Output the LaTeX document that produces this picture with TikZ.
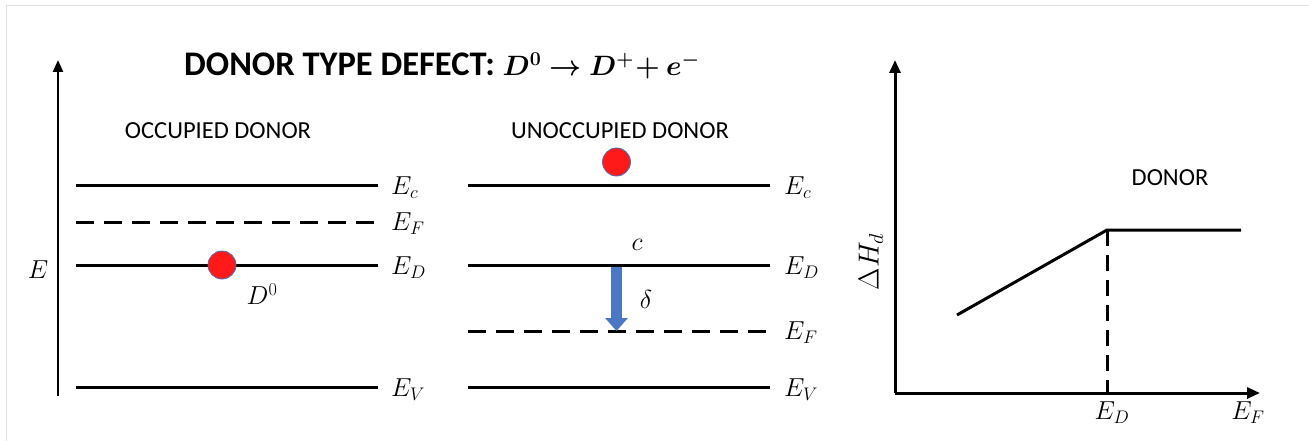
\RequirePackage{fix-cm}
\documentclass[tikz,border=0pt]{standalone}
\usepackage{fontspec}
\usepackage{amsmath,bm}
\setsansfont{Carlito}
\usetikzlibrary{arrows.meta}
\definecolor{dotred}{HTML}{FF1A1A}
\definecolor{dotedge}{HTML}{4A6FB5}
\definecolor{arrblue}{HTML}{4A78C4}
\definecolor{frame}{HTML}{E2E2E2}
\tikzset{
  level/.style={line width=3pt},
  fermi/.style={line width=3pt, dash pattern=on 18pt off 10pt},
  lbl/.style={font=\fontsize{26}{28}\selectfont, inner sep=0pt, anchor=west},
  caps/.style={font=\sffamily\fontsize{24.5}{28}\selectfont, inner sep=0pt},
  dot/.style={circle, fill=dotred, draw=dotedge, line width=0.8pt, minimum size=28pt, inner sep=0pt},
}
\begin{document}
\begin{tikzpicture}[x=1pt,y=-1pt]
\useasboundingbox (0,0) rectangle (1309,441);
\draw[frame, line width=1.5pt] (6.5,441) -- (6.5,5.5) -- (1309,5.5);

% title
\node[inner sep=0pt, anchor=west, font=\sffamily\bfseries\fontsize{34.5}{38}\selectfont] (title) at (184,66)
  {DONOR TYPE DEFECT: {\fontsize{28}{32}\selectfont$\bm{D^0 \rightarrow D^{+}\!+ e^{-}}$}};

% left energy axis
\coordinate (Ebot) at (58,396);
\coordinate (Etop) at (58,60);
\draw[line width=2.5pt, -{Triangle[length=12pt,width=10pt]}] (Ebot) -- (Etop);
\node[lbl, anchor=center] (Elab) at (38,270) {$E$};

% occupied donor panel
\node[caps] (occ) at (218,131) {OCCUPIED DONOR};
\coordinate (aEc1) at (76,185);  \coordinate (aEc2) at (378,185);
\coordinate (aEf1) at (76,222);  \coordinate (aEf2) at (378,222);
\coordinate (aEd1) at (76,265);  \coordinate (aEd2) at (378,265);
\coordinate (aEv1) at (76,387);  \coordinate (aEv2) at (378,387);
\draw[level] (aEc1) -- (aEc2);
\draw[fermi] (aEf1) -- (aEf2);
\draw[level] (aEd1) -- (aEd2);
\draw[level] (aEv1) -- (aEv2);
\node[lbl] (aEcL) at (391,188) {$E_c$};
\node[lbl] (aEfL) at (391,224) {$E_F$};
\node[lbl] (aEdL) at (391,268) {$E_D$};
\node[lbl] (aEvL) at (391,390) {$E_V$};
\node[dot] (dotA) at (222,265) {};
\node[lbl, anchor=center] (D0) at (262,294) {$D^0$};

% unoccupied donor panel
\node[caps] (unocc) at (620,131) {UNOCCUPIED DONOR};
\coordinate (bEc1) at (468,185);  \coordinate (bEc2) at (770,185);
\coordinate (bEd1) at (468,265);  \coordinate (bEd2) at (770,265);
\coordinate (bEf1) at (468,331);  \coordinate (bEf2) at (770,331);
\coordinate (bEv1) at (468,387);  \coordinate (bEv2) at (770,387);
\draw[level] (bEc1) -- (bEc2);
\draw[level] (bEd1) -- (bEd2);
\draw[fermi] (bEf1) -- (bEf2);
\draw[level] (bEv1) -- (bEv2);
\node[lbl] (bEcL) at (784,188) {$E_c$};
\node[lbl] (bEdL) at (784,268) {$E_D$};
\node[lbl] (bEfL) at (784,333) {$E_F$};
\node[lbl] (bEvL) at (784,390) {$E_V$};
\node[dot] (dotB) at (616.5,162) {};
\node[lbl, anchor=center] (cl) at (637,245) {$c$};
\coordinate (arrS) at (616.5,266.5);
\coordinate (arrE) at (616.5,331);
\draw[arrblue, line width=11pt, -{Triangle[length=13pt,width=22pt]}] (arrS) -- (arrE);
\node[lbl, anchor=center] (dl) at (646,299) {$\delta$};

% right plot
\coordinate (O) at (895,393);
\coordinate (Ytop) at (895,60);
\coordinate (Xend) at (1260,393);
\draw[line width=3pt, -{Triangle[length=13pt,width=11pt]}] (O) -- (Ytop);
\draw[line width=3pt, -{Triangle[length=13pt,width=11pt]}] (O) -- (Xend);
\coordinate (p1) at (957,315);
\coordinate (kink) at (1107,230);
\coordinate (p3) at (1241,230);
\coordinate (kinkB) at (1107,393);
\draw[line width=3pt, line join=round] (p1) -- (kink) -- (p3);
\draw[line width=3pt, dash pattern=on 16pt off 9pt] (kink) -- (kinkB);
\node[lbl, anchor=center] (xED) at (1112,413) {$E_D$};
\node[lbl, anchor=center] (xEF) at (1248,413) {$E_F$};
\node[lbl, anchor=center, rotate=90, font=\fontsize{29}{31}\selectfont] (yH) at (871,262) {$\Delta H_d$};
\node[caps] (donor) at (1170,178) {DONOR};
\end{tikzpicture}
\end{document}
